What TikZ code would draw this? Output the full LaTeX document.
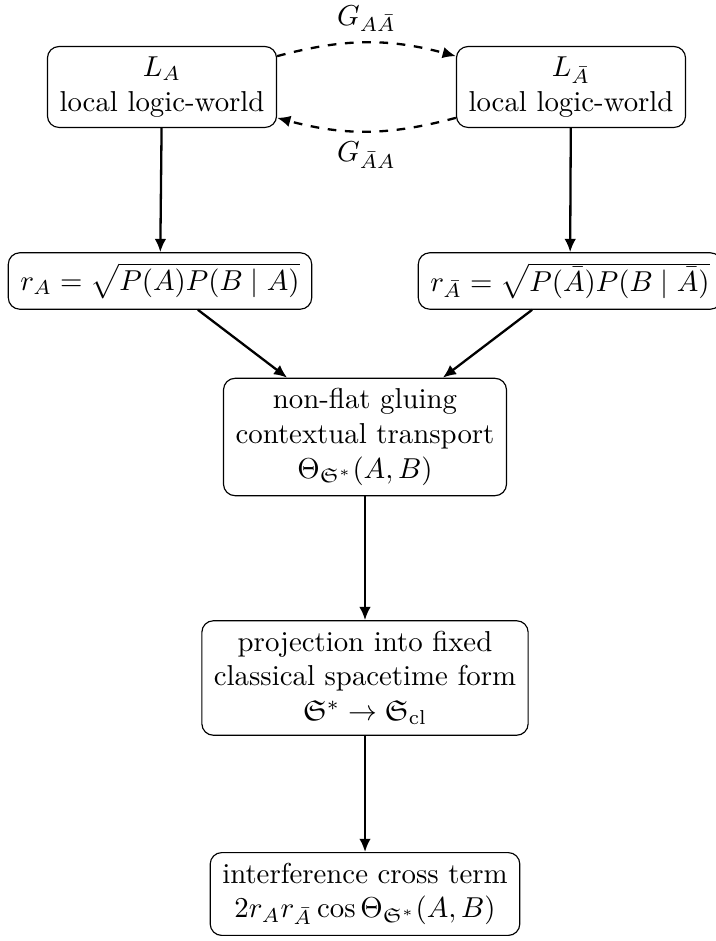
\documentclass[tikz,border=0pt]{standalone}
\usepackage{amsmath,amssymb}
\usetikzlibrary{arrows.meta}
\begin{document}
\begin{tikzpicture}[x=0.3472pt,y=-0.3472pt,
  box/.style={draw,rounded corners=4pt,align=center,inner xsep=4.2pt,inner ysep=3.6pt},
  arr/.style={-{Latex[length=4.6pt,width=4pt]},thick},
  darr/.style={-{Latex[length=4.6pt,width=4pt]},thick,dashed}]
\useasboundingbox (0,0) rectangle (715,941);
\node[box] (LA) at (162,87) {$L_A$\\local logic-world};
\node[box] (LB) at (571,87) {$L_{\bar A}$\\local logic-world};
\node[box] (rA) at (160,281) {$r_A=\sqrt{P(A)P(B\mid A)}$};
\node[box] (rB) at (570,281) {$r_{\bar A}=\sqrt{P(\bar A)P(B\mid \bar A)}$};
\node[box] (th) at (365,437) {non-flat gluing\\contextual transport\\$\Theta_{\mathfrak{S}^*}(A,B)$};
\node[box] (pr) at (365,678) {projection into fixed\\classical spacetime form\\$\mathfrak{S}^*\to\mathfrak{S}_{\mathrm{cl}}$};
\node[box] (in) at (365,894) {interference cross term\\$2r_Ar_{\bar A}\cos\Theta_{\mathfrak{S}^*}(A,B)$};
\draw[darr] (LA.15) to[bend left=15] node[midway,above] (g1) {$G_{A\bar A}$} (LB.165);
\draw[darr] (LB.195) to[bend left=15] node[midway,below] (g2) {$G_{\bar A A}$} (LA.-15);
\draw[arr] (LA) -- (rA);
\draw[arr] (LB) -- (rB);
\draw[arr] (rA) -- (th);
\draw[arr] (rB) -- (th);
\draw[arr] (th) -- (pr);
\draw[arr] (pr) -- (in);
\end{tikzpicture}
\end{document}
